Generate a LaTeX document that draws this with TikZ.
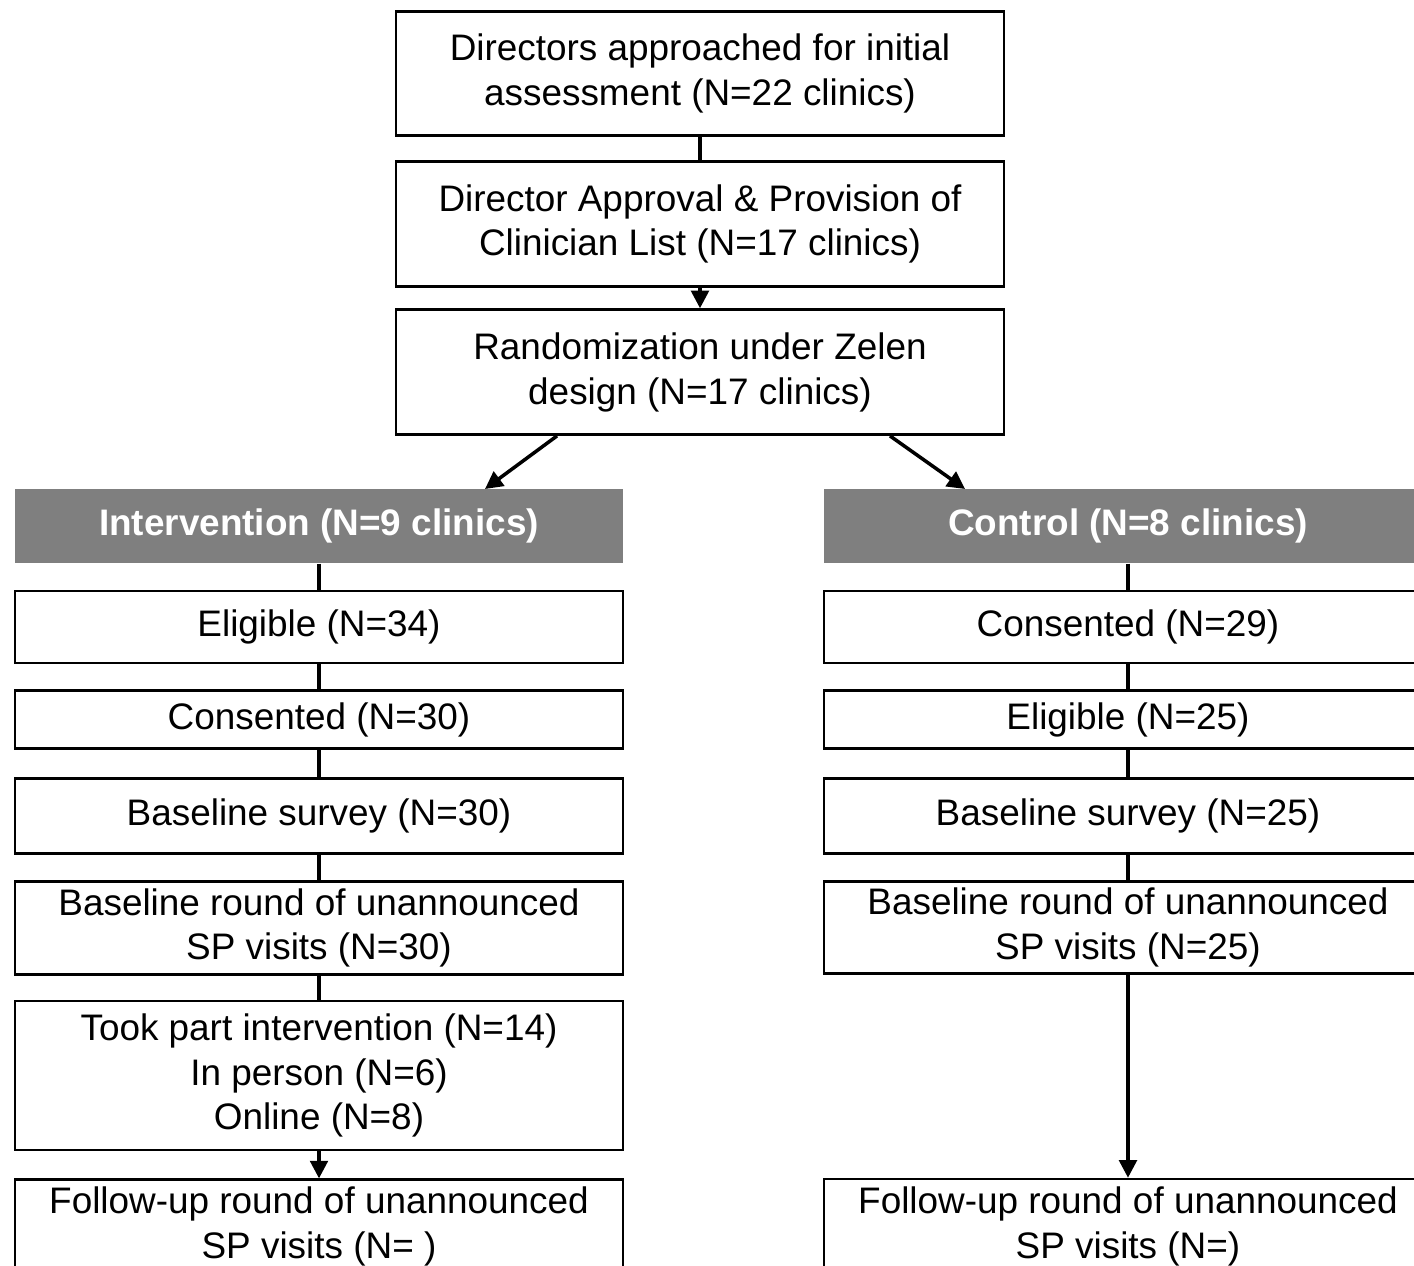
\documentclass[tikz,border=0pt]{standalone}
\usepackage{fontspec}
\setmainfont{Liberation Sans}
\usepackage{tikz}
\usetikzlibrary{positioning}
\usetikzlibrary{arrows.meta}
\usepackage{xcolor}
\definecolor{headgray}{RGB}{127,127,127}

\begin{document}
\begin{tikzpicture}[
  font=\fontsize{21}{25.5}\selectfont,
  >={Triangle[width=10pt,length=10pt]},
  box/.style={draw, line width=1.5pt, minimum width=12.16cm, align=center, inner sep=0pt},
  head/.style={fill=headgray, text=white, font=\fontsize{21}{25.5}\selectfont\bfseries,
               minimum width=12.16cm, minimum height=1.48cm, inner sep=0pt},
  link/.style={line width=2pt}
]

\clip (0,0) rectangle (28.28,-25.32);

%Top: clinics recruited and randomized
\node[box, minimum height=2.48cm, anchor=north] (dir) at (14,-0.21)
  {Directors approached for initial\\assessment (N=22 clinics)};
\node[box, minimum height=2.5cm, below=0.46cm of dir] (appr)
  {Director Approval \& Provision of\\Clinician List (N=17 clinics)};
\node[box, minimum height=2.5cm, below=0.41cm of appr] (rand)
  {Randomization under Zelen\\design (N=17 clinics)};

%I: intervention arm
\node[head, anchor=north] (int) at (6.38,-9.78) {Intervention (N=9 clinics)};
\node[box, minimum height=1.44cm, below=0.52cm of int] (ieli) {Eligible (N=34)};
\node[box, minimum height=1.16cm, below=0.5cm of ieli] (icons) {Consented (N=30)};
\node[box, minimum height=1.5cm, below=0.54cm of icons] (isurv) {Baseline survey (N=30)};
\node[box, minimum height=1.86cm, below=0.51cm of isurv] (ibase)
  {Baseline round of unannounced\\SP visits (N=30)};
\node[box, minimum height=2.98cm, below=0.48cm of ibase] (itook)
  {Took part intervention (N=14)\\In person (N=6)\\Online (N=8)};
\node[box, minimum height=1.88cm, below=0.54cm of itook] (ifol)
  {Follow-up round of unannounced\\SP visits (N= )};

%C: control arm
\node[head, anchor=north] (ctl) at (22.56,-9.78) {Control (N=8 clinics)};
\node[box, minimum height=1.44cm, below=0.52cm of ctl] (ccons) {Consented (N=29)};
\node[box, minimum height=1.16cm, below=0.5cm of ccons] (celi) {Eligible (N=25)};
\node[box, minimum height=1.5cm, below=0.54cm of celi] (csurv) {Baseline survey (N=25)};
\node[box, minimum height=1.84cm, below=0.51cm of csurv] (cbase)
  {Baseline round of unannounced\\SP visits (N=25)};
\node[box, minimum height=1.88cm, below=4.06cm of cbase] (cfol)
  {Follow-up round of unannounced\\SP visits (N=)};

% links
\draw[link] (dir) -- (appr);
\draw[link,->] (appr) -- (rand);
\draw[link,->] ([xshift=-2.86cm]rand.south) -- ([xshift=3.32cm]int.north);
\draw[link,->] ([xshift=3.8cm]rand.south) -- ([xshift=-3.26cm]ctl.north);

\draw[link] (int) -- (ieli);
\draw[link] (ieli) -- (icons);
\draw[link] (icons) -- (isurv);
\draw[link] (isurv) -- (ibase);
\draw[link] (ibase) -- (itook);
\draw[link,->] (itook) -- (ifol);

\draw[link] (ctl) -- (ccons);
\draw[link] (ccons) -- (celi);
\draw[link] (celi) -- (csurv);
\draw[link] (csurv) -- (cbase);
\draw[link,->] (cbase) -- (cfol);
\end{tikzpicture}
\end{document}
